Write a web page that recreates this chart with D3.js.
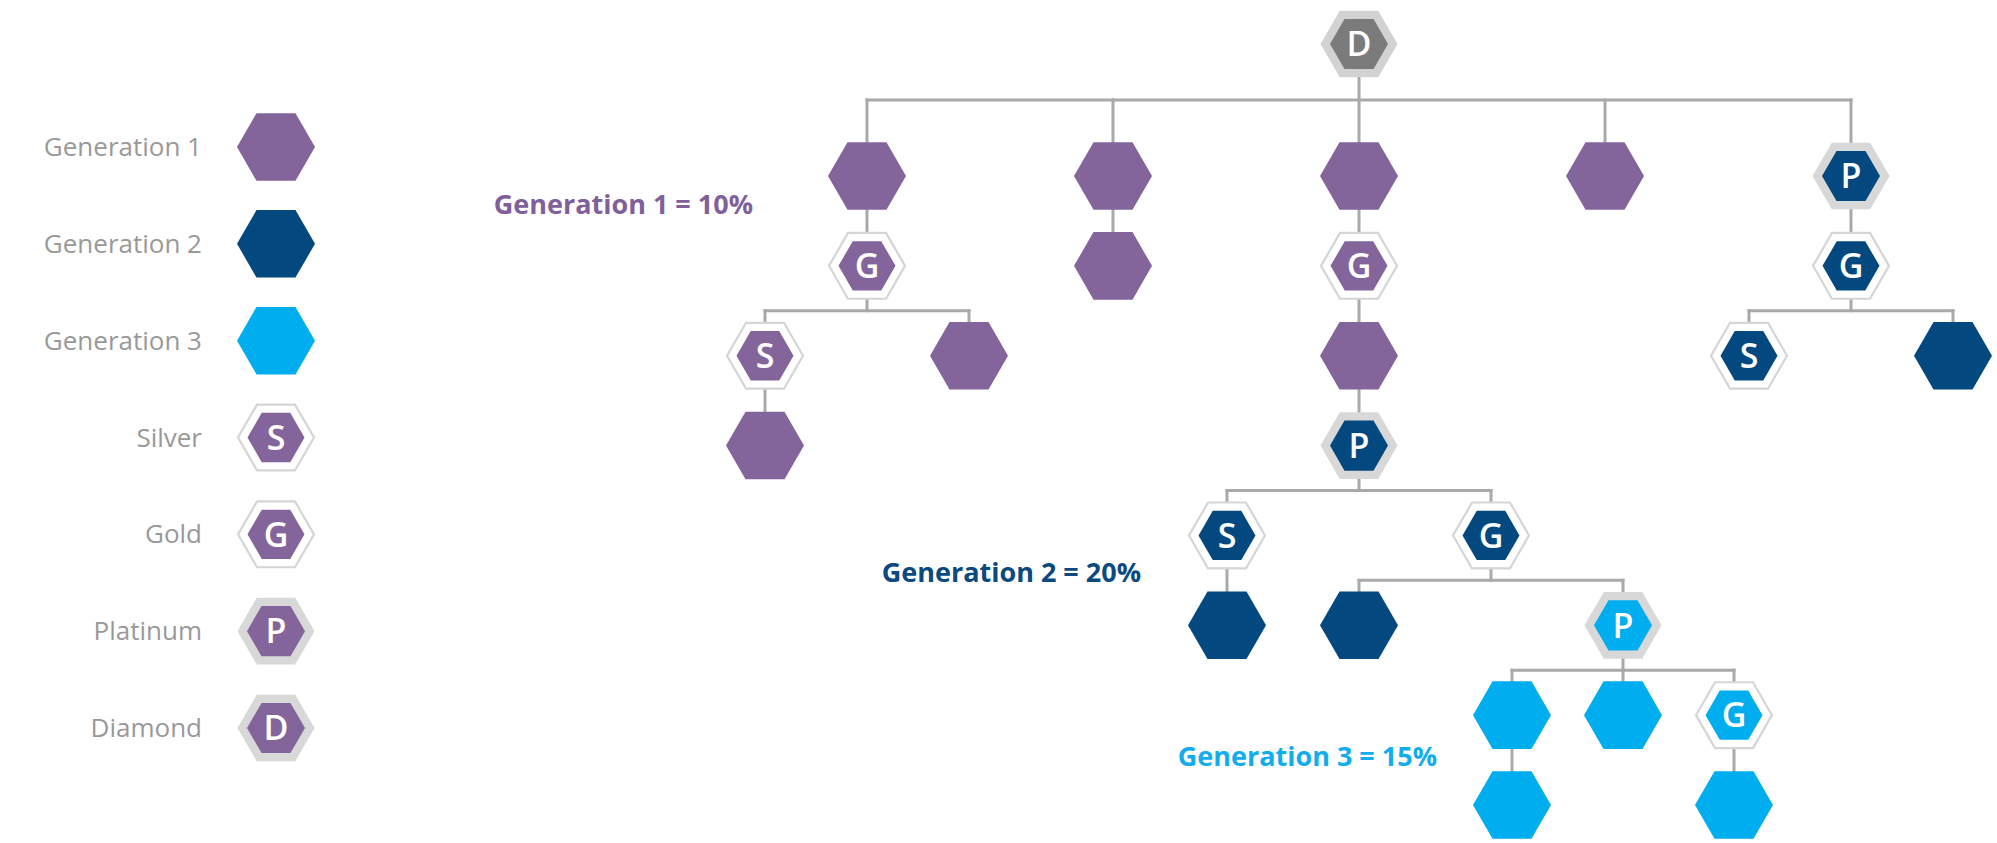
<!DOCTYPE html>
<html>
<head>
<meta charset="utf-8">
<script src="https://cdn.jsdelivr.net/npm/d3@7"></script>
<style>
  html, body { margin: 0; padding: 0; background: #ffffff; }
  svg { display: block; }
</style>
</head>
<body>
<script>
// ---------------- DATA ----------------
// Tree: node ids, their parents, generation, and rank badge ("" = plain member)
const nodeIds    = ["root","a1","a1g","a1gs","a1gsx","a1gx","a2","a2x","a3","a3g","a3gx","b1","b1s","b1sx","b1g","b1gx","c1","c1a","c1ax","c1b","c1g","c1gx","a4","b2","b2g","b2gs","b2gx"];
const parentIds  = ["",    "root","a1","a1g","a1gs","a1g","root","a2","root","a3","a3g","a3gx","b1","b1s","b1","b1g","b1g","c1","c1a","c1","c1","c1g","root","root","b2","b2g","b2g"];
const generations= [0,     1,    1,    1,    1,      1,     1,     1,    1,     1,    1,     2,    2,    2,     2,    2,     3,    3,    3,     3,    3,    3,     1,    2,     2,    2,     2];
const ranks      = ["D",   "",   "G",  "S",  "",     "",    "",    "",   "",    "G",  "",    "P",  "S",  "",    "G",  "",    "P",  "",   "",    "",   "G",  "",    "",   "P",   "G",  "S",   ""];

// Legend
const legendLabels = ["Generation 1","Generation 2","Generation 3","Silver","Gold","Platinum","Diamond"];
const legendGens   = [1, 2, 3, 1, 1, 1, 1];
const legendRanks  = ["", "", "", "S", "G", "P", "D"];

// Generation bonus annotations
const annotationTexts = ["Generation 1 = 10%", "Generation 2 = 20%", "Generation 3 = 15%"];
const annotationGens  = [1, 2, 3];

// ---------------- STYLE / LAYOUT ----------------
const W = 1997, H = 843;
const genColor = {0: "#7b7b7b", 1: "#83659b", 2: "#03497f", 3: "#00adee"};
const labelColor = {1: "#80609a", 2: "#0a4a80", 3: "#13aded"};
const lineColor = "#a9a9a9";
const R_PLAIN = 39, R_OUTER = 39, R_INNER = 28.5;

const svg = d3.select("body").append("svg")
  .attr("width", W).attr("height", H)
  .attr("viewBox", `0 0 ${W} ${H}`);
svg.append("rect").attr("width", W).attr("height", H).attr("fill", "#ffffff");

const hexPts = r => d3.range(6).map(i => [r * Math.cos(i * Math.PI / 3), r * Math.sin(i * Math.PI / 3)]);
const hexPath = r => d3.line()(hexPts(r)) + "Z";

function drawHex(g, gen, rank) {
  const col = genColor[gen];
  if (rank === "") {
    g.append("path").attr("d", hexPath(R_PLAIN)).attr("fill", col);
    return;
  }
  if (rank === "S" || rank === "G") {
    g.append("path").attr("d", hexPath(R_OUTER - 1)).attr("fill", "#ffffff")
      .attr("stroke", "#d5d5d5").attr("stroke-width", 2.2);
    g.append("path").attr("d", hexPath(R_INNER)).attr("fill", col);
  } else {
    g.append("path").attr("d", hexPath(R_OUTER - 0.5)).attr("fill", gen === 0 ? "#d2d2d2" : "#d8d8d8");
    g.append("path").attr("d", hexPath(R_INNER + 0.5)).attr("fill", col);
  }
  g.append("text").text(rank)
    .attr("text-anchor", "middle").attr("dy", "0.36em")
    .attr("font-family", "'Open Sans', sans-serif").attr("font-weight", 600)
    .attr("font-size", 34).attr("fill", "#ffffff");
}

// ---------------- TREE ----------------
const table = nodeIds.map((id, i) => ({id, parent: parentIds[i] || null, gen: generations[i], rank: ranks[i]}));
const root = d3.stratify().id(d => d.id).parentId(d => d.parent)(table);

const siblingGap = n => {
  if (n.depth === 1) return 246;
  if (n.parent.children.length === 3) return 111;
  if (n.depth >= 5) return 264;
  return 204;
};
d3.tree().nodeSize([1, 1])
  .separation((a, b) => a.parent === b.parent ? siblingGap(a) : 100)(root);

const rootX = 1359, rootY = 44;
const yScale = d3.scaleLinear().domain([1, 8]).range([176, 805]);
root.each(n => {
  n.px = rootX + n.x;
  n.py = n.depth === 0 ? rootY : yScale(n.depth);
});

const tree = svg.append("g");
const links = tree.append("g").attr("fill", "none").attr("stroke", lineColor)
  .attr("stroke-width", 3).attr("stroke-linecap", "square");

root.each(p => {
  if (!p.children) return;
  const kids = p.children;
  if (kids.length === 1) {
    links.append("line").attr("x1", p.px).attr("y1", p.py).attr("x2", kids[0].px).attr("y2", kids[0].py);
    return;
  }
  const ey = p.depth === 0 ? rootY + 56 : (p.py + kids[0].py) / 2;
  links.append("line").attr("x1", p.px).attr("y1", p.py).attr("x2", p.px).attr("y2", ey);
  links.append("line").attr("x1", d3.min(kids, k => k.px)).attr("y1", ey)
    .attr("x2", d3.max(kids, k => k.px)).attr("y2", ey);
  kids.forEach(k => {
    links.append("line").attr("x1", k.px).attr("y1", ey).attr("x2", k.px).attr("y2", k.py);
  });
});

root.descendants().forEach(n => {
  const g = tree.append("g").attr("transform", `translate(${n.px},${n.py})`);
  drawHex(g, n.data.gen, n.data.rank);
});

// ---------------- ANNOTATIONS ----------------
const annX = [753, 1141, 1437], annY = [214, 582, 766];
annotationTexts.forEach((t, i) => {
  svg.append("text").text(t)
    .attr("x", annX[i]).attr("y", annY[i]).attr("text-anchor", "end")
    .attr("font-family", "'Open Sans', sans-serif").attr("font-weight", 700)
    .attr("font-size", 27).attr("fill", labelColor[annotationGens[i]]);
});

// ---------------- LEGEND ----------------
const legY = d3.scalePoint().domain(legendLabels).range([147, 728]);
const legend = svg.append("g");
legendLabels.forEach((lab, i) => {
  const y = legY(lab);
  legend.append("text").text(lab)
    .attr("x", 202).attr("y", y).attr("dy", "0.35em").attr("text-anchor", "end")
    .attr("font-family", "'Open Sans', sans-serif").attr("font-weight", 400)
    .attr("font-size", 26).attr("fill", "#999999");
  const g = legend.append("g").attr("transform", `translate(276,${y})`);
  drawHex(g, legendGens[i], legendRanks[i]);
});
</script>
</body>
</html>
